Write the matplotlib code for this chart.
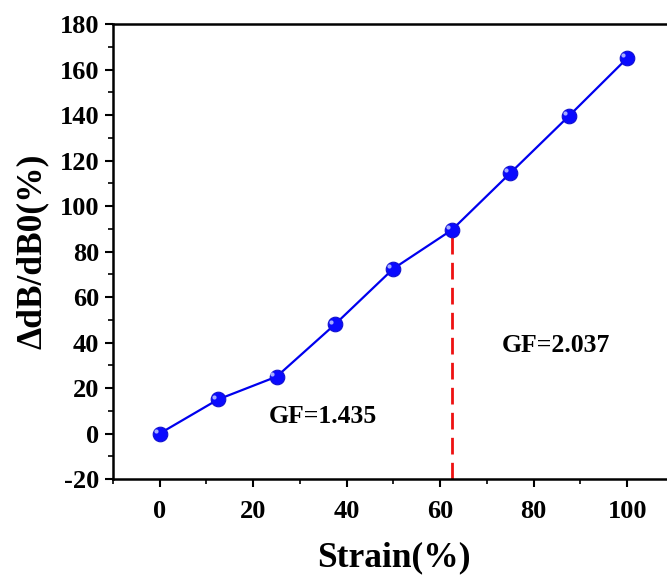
import matplotlib.pyplot as plt
from matplotlib.ticker import MultipleLocator

# strain (%) vs relative change
strain = [0, 12.5, 25, 37.5, 50, 62.5, 75, 87.5, 100]
response = [0, 15, 25, 48, 72.5, 89.5, 114.5, 139.5, 165]
split_x = 62.5
split_y = 89.5
gf_labels = ['GF=1.435', 'GF=2.037']
gf_pos = [(35, 7.3), (84.8, 38.9)]

plt.rcParams['font.family'] = ['Liberation Serif', 'DejaVu Serif']
plt.rcParams['font.weight'] = 'bold'
plt.rcParams['axes.unicode_minus'] = False

fig = plt.figure(figsize=(6.67, 5.79), dpi=100)
ax = fig.add_axes([0.1694, 0.1727, 0.841, 0.7858])

ax.plot(strain, response, color='#0000ee', lw=1.6, zorder=2)
ax.plot(strain, response, 'o', color='#0a0aff', ms=10.5, mec='#1010d0', mew=0.8, zorder=3)
# little highlight to fake the sphere look
ax.plot([s - 0.9 for s in strain], [r + 1.2 for r in response], 'o',
        color='#b8c0ff', ms=3, mew=0, alpha=0.9, zorder=4)

ax.plot([split_x, split_x], [-20, split_y], '--', color='#ee1111', lw=2, dashes=(6, 3), zorder=1)

for lab, (x, y) in zip(gf_labels, gf_pos):
    ax.text(x, y, lab, fontsize=18.5, fontweight='bold', ha='center', va='center')

ax.set_xlim(-10, 110)
ax.set_ylim(-20, 180)
ax.xaxis.set_major_locator(MultipleLocator(20))
ax.xaxis.set_minor_locator(MultipleLocator(10))
ax.yaxis.set_major_locator(MultipleLocator(20))
ax.yaxis.set_minor_locator(MultipleLocator(10))
ax.set_xticks([0, 20, 40, 60, 80, 100])

ax.tick_params(which='major', direction='out', length=6, width=1.5, labelsize=19, pad=4)
ax.tick_params(axis='x', which='major', pad=9)
ax.tick_params(which='minor', direction='out', length=3.5, width=1.2)
ax.tick_params(top=False, right=False)
for lbl in ax.get_xticklabels() + ax.get_yticklabels():
    lbl.set_fontweight('bold')

for sp in ax.spines.values():
    sp.set_linewidth(1.8)

ax.set_xlabel('Strain(%)', fontsize=25.5, fontweight='bold', labelpad=13)
ax.set_ylabel('ΔdB/dB0(%)', fontsize=25.5, fontweight='bold', labelpad=8)

fig.savefig('out.png', dpi=100)
